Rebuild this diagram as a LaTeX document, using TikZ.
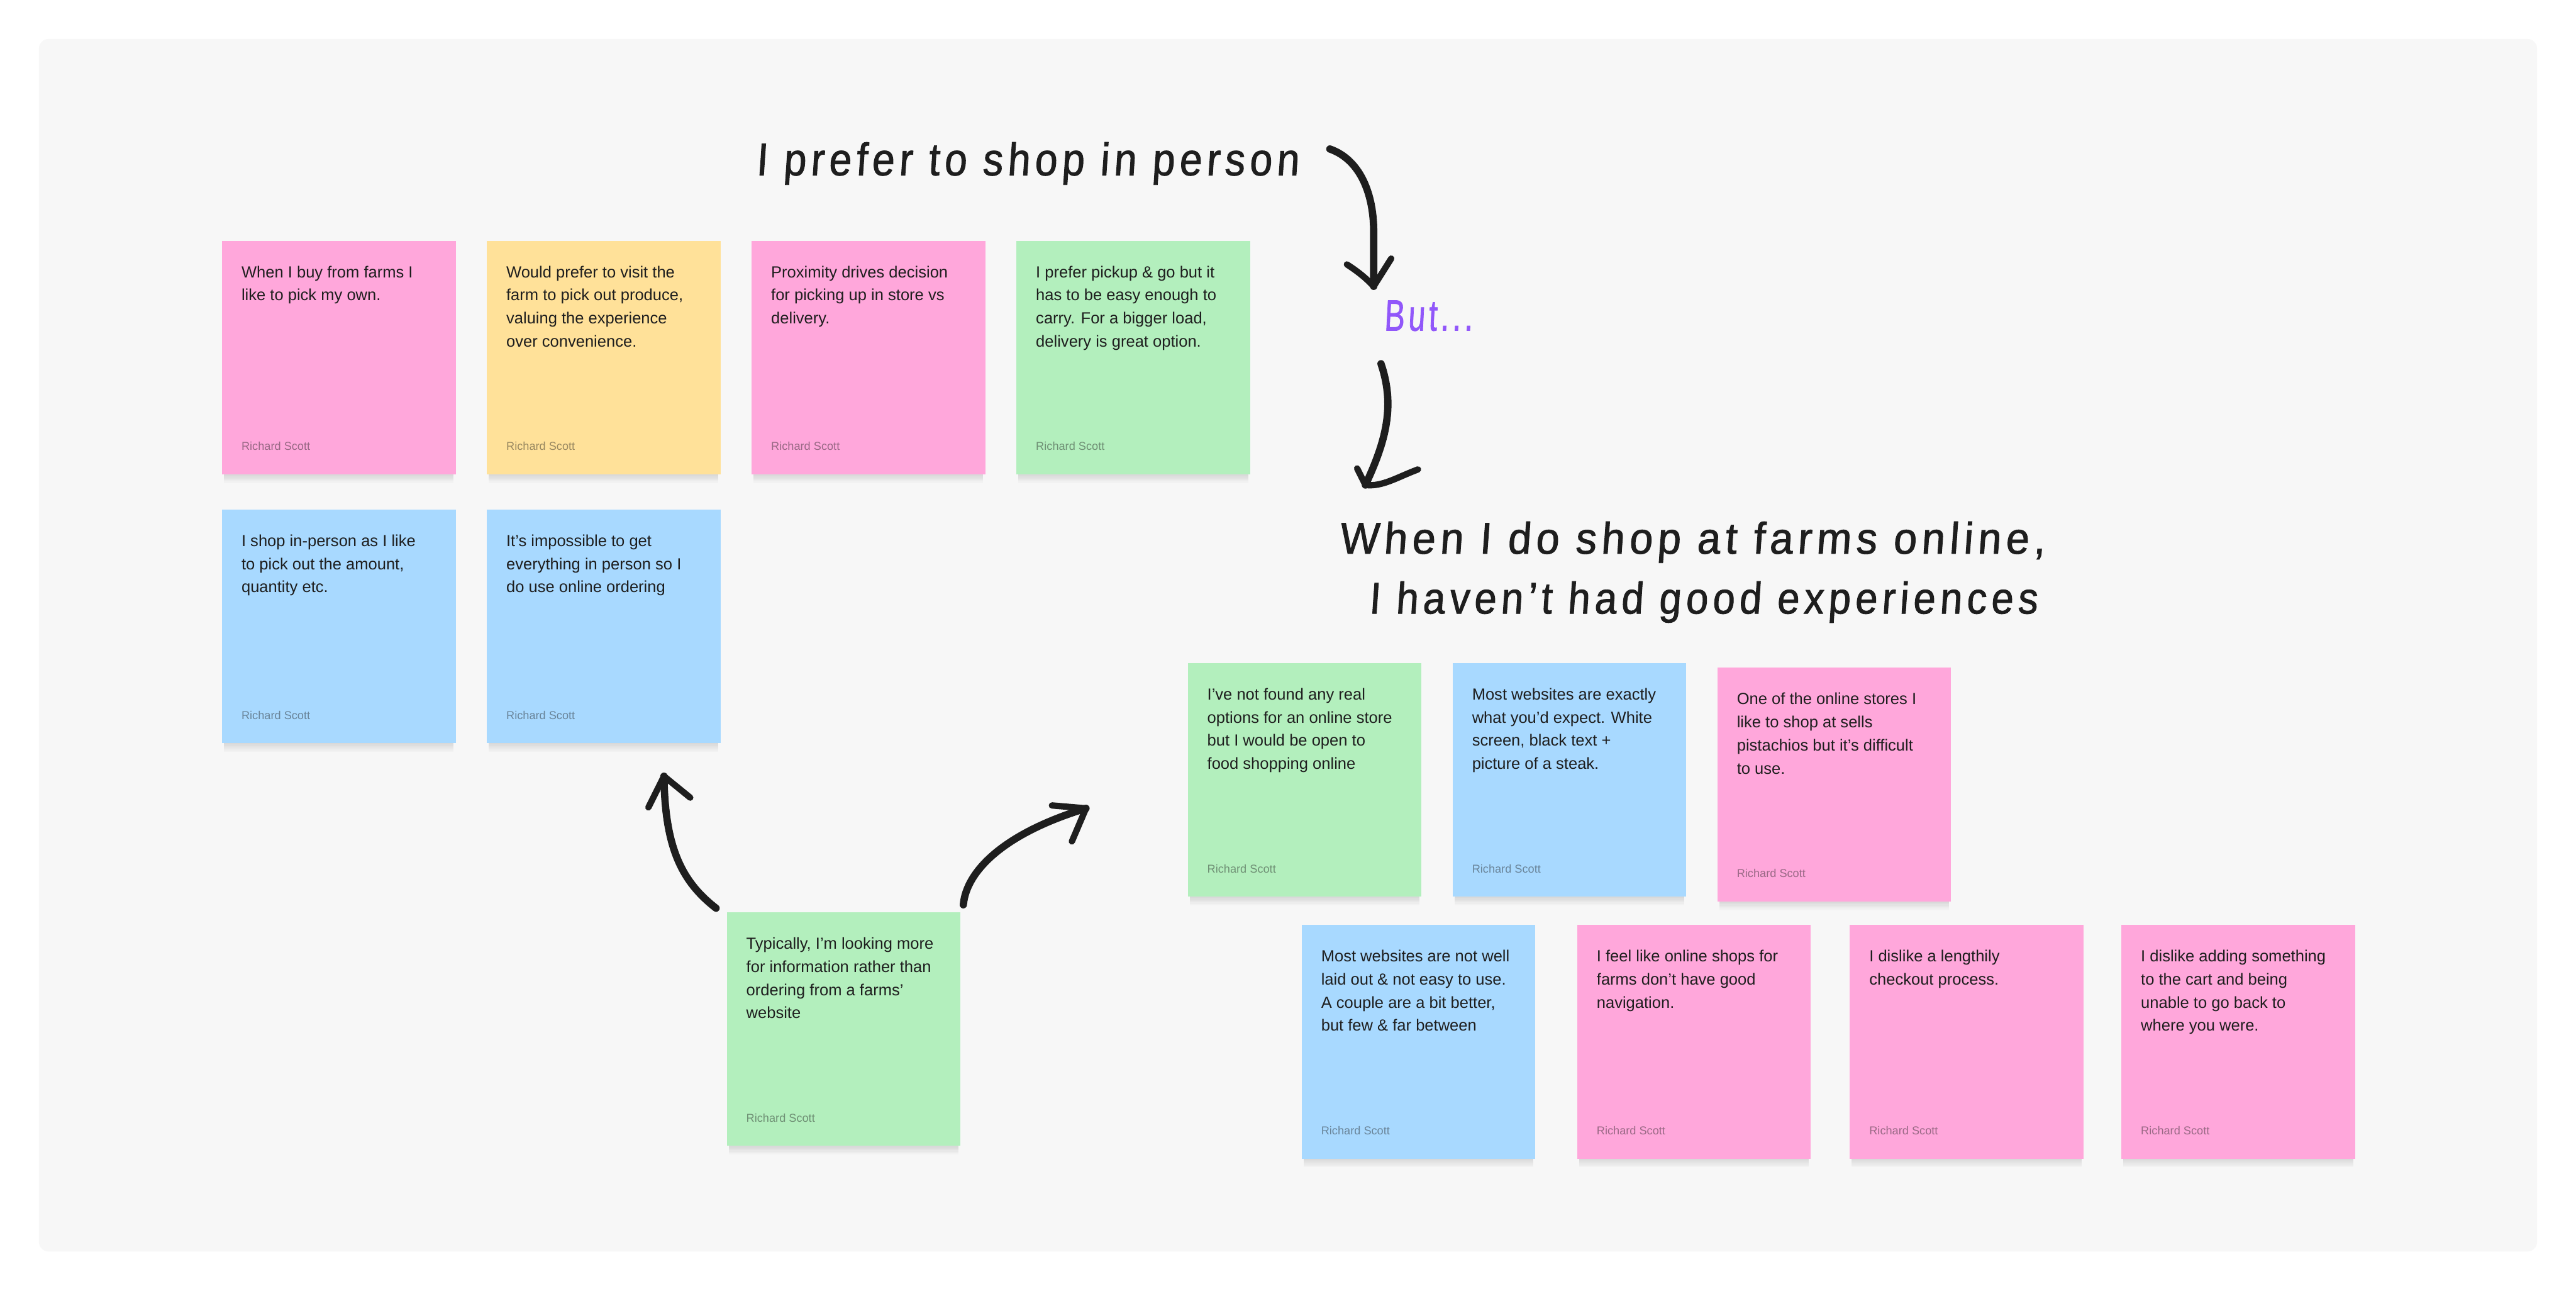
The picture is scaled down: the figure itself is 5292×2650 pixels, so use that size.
\documentclass[tikz,border=0pt]{standalone}
\usepackage{graphicx}
\usepackage{fontspec}
\setmainfont{Liberation Sans}
\newfontfamily\hand[FakeSlant=0.06, FakeStretch=0.78, LetterSpace=9, FakeBold=1.2]{Liberation Sans}
\definecolor{bgc}{HTML}{F7F7F7}
\definecolor{stpink}{HTML}{FFA7DB}
\definecolor{styellow}{HTML}{FFE199}
\definecolor{stgreen}{HTML}{B3EFBD}
\definecolor{stblue}{HTML}{A8D9FF}
\definecolor{ink}{HTML}{1E1E1E}
\definecolor{purp}{HTML}{9157FA}
\tikzset{
  sticky/.style={draw=none, minimum width=480pt, minimum height=480pt, anchor=north west, inner sep=0pt},
  shadowband/.style={fill=black, opacity=0.02},
  notetext/.style={anchor=base west, inner sep=0pt, text=ink},
  authortext/.style={anchor=base west, inner sep=0pt, text=ink, text opacity=0.45, font=\fontsize{23.5}{28}\selectfont},
  handtext/.style={anchor=base west, inner sep=0pt, text=ink},
  inkstroke/.style={draw=ink, line width=15pt, line cap=round, line join=round},
  headstroke/.style={draw=ink, line width=13pt, line cap=round, line join=round}
}
\newcommand\stickynote[5]{%
  \foreach \k in {1,4,...,22} {
    \fill[shadowband] (#2+4,#3+\k) rectangle (#2+476,#3+476+\k);
  }
  \node[sticky, fill=#4] (#1) at (#2,#3) {};
  \node[notetext] (#1t) at ([shift={(40pt,-76pt)}]#1.north west)
    {\parbox[t]{460pt}{\fontsize{33}{47.5}\selectfont\raggedright #5}};
  \node[authortext] (#1a) at ([shift={(40pt,-431pt)}]#1.north west) {Richard Scott};
}
\begin{document}
\begin{tikzpicture}[x=1pt,y=-1pt]
\useasboundingbox (0,0) rectangle (5292,2650);
\fill[white] (0,0) rectangle (5292,2650);
\fill[bgc, rounded corners=20pt] (80,80) rectangle (5212,2570);

% left group
\stickynote{n1}{456}{494}{stpink}{When I buy from farms I\\like to pick my own.}
\stickynote{n2}{1000}{494}{styellow}{Would prefer to visit the\\farm to pick out produce,\\valuing the experience\\over convenience.}
\stickynote{n3}{1544}{494}{stpink}{Proximity drives decision\\for picking up in store vs\\delivery.}
\stickynote{n4}{2088}{494}{stgreen}{I prefer pickup \& go but it\\has to be easy enough to\\carry. For a bigger load,\\delivery is great option.}
\stickynote{n5}{456}{1046}{stblue}{I shop in-person as I like\\to pick out the amount,\\quantity etc.}
\stickynote{n6}{1000}{1046}{stblue}{It’s impossible to get\\everything in person so I\\do use online ordering}
\stickynote{tp}{1493}{1873}{stgreen}{Typically, I’m looking more\\for information rather than\\ordering from a farms’\\website}

% right group
\stickynote{r1}{2440}{1361}{stgreen}{I’ve not found any real\\options for an online store\\but I would be open to\\food shopping online}
\stickynote{r2}{2984}{1361}{stblue}{Most websites are exactly\\what you’d expect. White\\screen, black text +\\picture of a steak.}
\stickynote{r3}{3528}{1371}{stpink}{One of the online stores I\\like to shop at sells\\pistachios but it’s difficult\\to use.}
\stickynote{r4}{2674}{1899}{stblue}{Most websites are not well\\laid out \& not easy to use.\\A couple are a bit better,\\but few \& far between}
\stickynote{r5}{3240}{1899}{stpink}{I feel like online shops for\\farms don’t have good\\navigation.}
\stickynote{r6}{3800}{1899}{stpink}{I dislike a lengthily\\checkout process.}
\stickynote{r7}{4358}{1899}{stpink}{I dislike adding something\\to the cart and being\\unable to go back to\\where you were.}

% handwritten headings
\node[handtext] (h1) at (1553,360) {\resizebox{1114pt}{68pt}{\hand I prefer to shop in person}};
\node[handtext, text=purp] (but) at (2843,679) {\resizebox{182pt}{62pt}{\hand But...}};
\node[handtext] (h2) at (2751,1137) {\resizebox{1449pt}{66pt}{\hand When I do shop at farms online,}};
\node[handtext] (h3) at (2812,1260) {\resizebox{1373pt}{66pt}{\hand I haven’t had good experiences}};

% arrow endpoints
\coordinate (a1s) at (2732,306);
\coordinate (a1e) at (2822,588);
\coordinate (a2s) at (2837,747);
\coordinate (a2e) at (2805,996);
\coordinate (a3s) at (1471,1865);
\coordinate (a3e) at (1364,1594);
\coordinate (a4s) at (1979,1858);
\coordinate (a4e) at (2231,1660);

% arrow 1: heading -> But...
\draw[inkstroke] (a1s) .. controls (2795,328) and (2823,400) .. (2822,480) -- (a1e);
\draw[headstroke] (2767,543) .. controls (2790,558) and (2805,570) .. (a1e) -- (2858,531);
% arrow 2: But... -> second heading
\draw[inkstroke] (a2s) .. controls (2865,830) and (2850,900) .. (a2e);
\draw[headstroke] (2788,962) -- (a2e) .. controls (2840,1000) and (2870,980) .. (2913,964);
% arrow 3: typical note -> left group
\draw[inkstroke] (a3s) .. controls (1400,1810) and (1366,1740) .. (a3e);
\draw[headstroke] (1332,1658) -- (a3e) -- (1418,1638);
% arrow 4: typical note -> right group
\draw[inkstroke] (a4s) .. controls (1985,1790) and (2060,1712) .. (a4e);
\draw[headstroke] (2161,1654) -- (a4e) -- (2202,1728);
\end{tikzpicture}
\end{document}
